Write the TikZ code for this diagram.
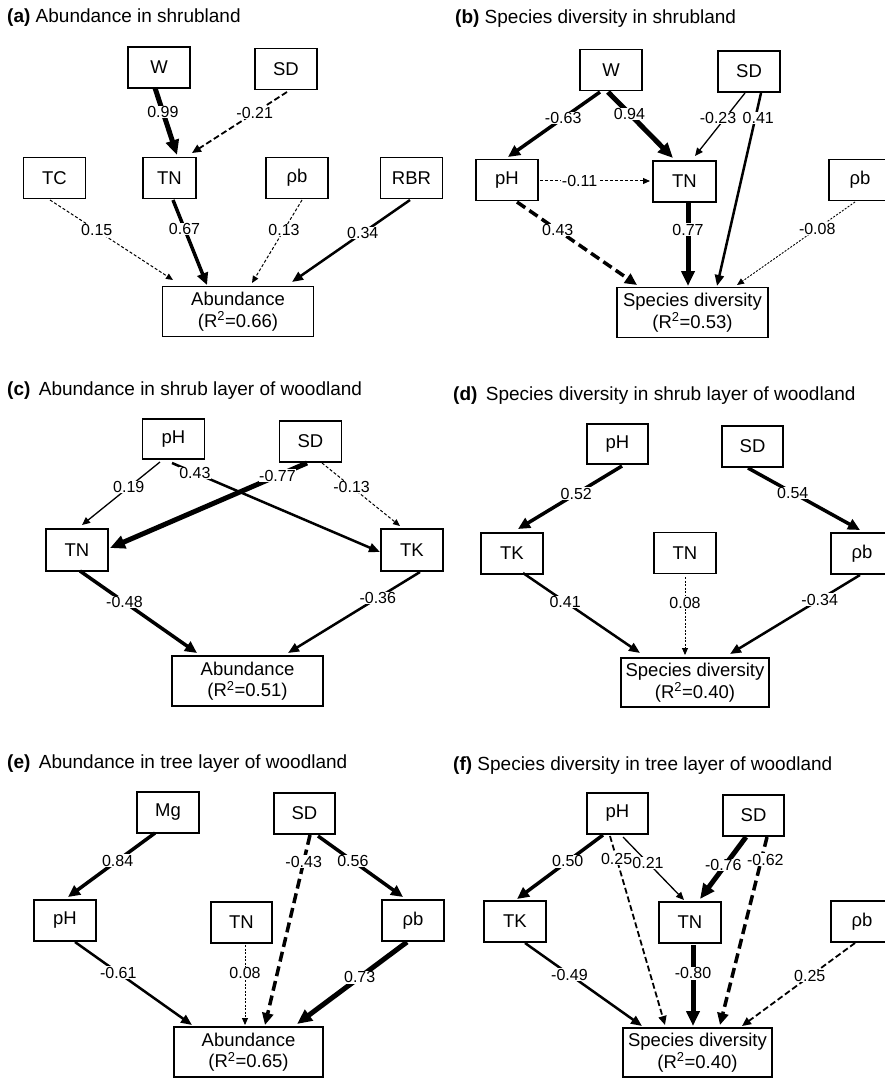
\documentclass[tikz,border=0pt]{standalone}
\usepackage{fontspec}
\setmainfont{Liberation Sans}
\usetikzlibrary{arrows.meta,calc}
\begin{document}
\begin{tikzpicture}[x=1pt,y=-1pt,
  box/.style={draw, line width=1.4pt, minimum width=62pt, minimum height=41pt, inner sep=0pt, font=\fontsize{18.5}{21.5}\selectfont},
  bigbox/.style={box, align=center, minimum width=151pt, minimum height=50pt},
  ttl/.style={anchor=base west, inner sep=0pt, font=\fontsize{19}{22}\selectfont},
  lbl/.style={fill=white, inner sep=0.6pt, font=\fontsize{16}{19}\selectfont},
  vthick/.style={line width=5pt, -{Triangle[length=15pt,width=13pt]}},
  thk/.style={line width=3.5pt, -{Triangle[length=12pt,width=11pt]}},
  med/.style={line width=2.5pt, -{Triangle[length=11pt,width=9pt]}},
  thn/.style={line width=1.3pt, -{Triangle[length=8pt,width=7pt]}},
  fdash/.style={line width=1pt, dash pattern=on 3pt off 2pt, -{Triangle[length=7pt,width=6pt]}},
  fdot/.style={line width=0.9pt, dash pattern=on 2pt off 1.5pt, -{Triangle[length=7pt,width=6pt]}},
  mdash/.style={line width=1.8pt, dash pattern=on 6pt off 3pt, -{Triangle[length=9pt,width=8pt]}},
  tdash/.style={line width=3.5pt, dash pattern=on 10pt off 5pt, -{Triangle[length=12pt,width=11pt]}}
]
\useasboundingbox (0,0) rectangle (885,1078);
\clip (0,0) rectangle (885,1078);

% ---------- (a) ----------
\node[ttl] (ta) at (7,23) {\textbf{(a)} Abundance in shrubland};
\node[box] (aW) at (159,67.5) {W};
\node[box] (aSD) at (286,69) {SD};
\node[box] (aTC) at (54.5,178) {TC};
\node[box, minimum width=53pt] (aTN) at (169.5,178) {TN};
\node[box] (arho) at (297,178) {ρb};
\node[box] (aRBR) at (411.5,178) {RBR};
\node[bigbox] (aAb) at (238,311.5) {Abundance\\(R\textsuperscript{2}=0.66)};
\draw[vthick] ($(aW)+(-4,20.5)$) -- node[lbl,pos=.36]{0.99} ($(aTN)+(7.5,-23)$);
\draw[mdash] ($(aSD)+(1,23)$) -- node[lbl,pos=.34]{-0.21} ($(aTN)+(22.5,-25)$);
\draw[fdash] ($(aTC)+(-4.5,22)$) -- node[lbl,pos=.38]{0.15} ($(aAb)+(-65,-31.5)$);
\draw[thk] ($(aTN)+(3.5,22)$) -- node[lbl,pos=.34]{0.67} ($(aAb)+(-31,-26.5)$);
\draw[fdash] ($(arho)+(5,22)$) -- node[lbl,pos=.36]{0.13} ($(aAb)+(14,-28.5)$);
\draw[med] ($(aRBR)+(-1.5,22)$) -- node[lbl,pos=.4]{0.34} ($(aAb)+(54,-29.5)$);

% ---------- (b) ----------
\node[ttl] (tb) at (455,24) {\textbf{(b)} Species diversity in shrubland};
\node[box] (bW) at (611,70) {W};
\node[box] (bSD) at (749,71.5) {SD};
\node[box] (bpH) at (507,180) {pH};
\node[box, minimum width=63pt] (bTN) at (684.5,181.5) {TN};
\node[box] (brho) at (860,180) {ρb};
\node[bigbox] (bSp) at (692.5,312.5) {Species diversity\\(R\textsuperscript{2}=0.53)};
\draw[thk] ($(bW)+(-11,22)$) -- node[lbl,pos=.4]{-0.63} ($(bpH)+(1,-23)$);
\draw[vthick] ($(bW)+(-3,22)$) -- node[lbl,pos=.33]{0.94} ($(bTN)+(-11.5,-23.5)$);
\draw[med] ($(bSD)+(12,21.5)$) -- node[lbl,pos=.13,xshift=3pt]{0.41} ($(bSp)+(24.5,-26.5)$);
\draw[thn] ($(bSD)+(-4,21.5)$) -- node[lbl,pos=.4,xshift=-7pt]{-0.23} ($(bTN)+(10.5,-25.5)$);
\draw[fdash] ($(bpH)+(33,1)$) -- node[lbl,pos=.36]{-0.11} ($(bTN)+(-34.5,-0.5)$);
\draw[tdash] ($(bpH)+(10,22)$) -- node[lbl,pos=.34]{0.43} ($(bSp)+(-55.5,-27.5)$);
\draw[vthick] ($(bTN)+(3.5,20.5)$) -- node[lbl,pos=.33]{0.77} ($(bSp)+(-4.5,-26.5)$);
\draw[fdot] ($(brho)+(-5,22)$) -- node[lbl,pos=.32]{-0.08} ($(bSp)+(44.5,-27.5)$);

% ---------- (c) ----------
\node[ttl] (tc) at (7,395) {\textbf{(c)}\, Abundance in shrub layer of woodland};
\node[box, minimum height=40pt] (cpH) at (173.5,439) {pH};
\node[box] (cSD) at (310.5,441.5) {SD};
\node[box, minimum height=42pt] (cTN) at (77,550) {TN};
\node[box, minimum height=42pt] (cTK) at (412,550) {TK};
\node[bigbox] (cAb) at (247.5,681) {Abundance\\(R\textsuperscript{2}=0.51)};
\draw[thn] ($(cpH)+(-13.5,23)$) -- node[lbl,pos=.4]{0.19} ($(cTN)+(5,-25)$);
\draw[med] ($(cpH)+(-1.5,24)$) -- node[lbl,pos=.11]{0.43} ($(cTK)+(-32,2)$);
\draw[vthick] ($(cSD)+(-3.5,21.5)$) -- node[lbl,pos=.15]{-0.77} ($(cTN)+(33,-2)$);
\draw[fdash] ($(cSD)+(11.5,21.5)$) -- node[lbl,pos=.38]{-0.13} ($(cTK)+(-12,-24)$);
\draw[thk] ($(cTN)+(3,21)$) -- node[lbl,pos=.38]{-0.48} ($(cAb)+(-50.5,-28)$);
\draw[med] ($(cTK)+(8,22)$) -- node[lbl,pos=.32]{-0.36} ($(cAb)+(40.5,-28)$);

% ---------- (d) ----------
\node[ttl] (td) at (453,400) {\textbf{(d)}\, Species diversity in shrub layer of woodland};
\node[box, minimum width=61pt, minimum height=40pt] (dpH) at (617.5,444) {pH};
\node[box, minimum width=61pt] (dSD) at (752.5,446.5) {SD};
\node[box] (dTK) at (512,553.5) {TK};
\node[box] (dTN) at (685,553) {TN};
\node[box] (drho) at (862,553.5) {ρb};
\node[bigbox, minimum width=148pt, minimum height=49pt] (dSp) at (695,682.5) {Species diversity\\(R\textsuperscript{2}=0.40)};
\draw[thk] ($(dpH)+(4.5,22)$) -- node[lbl,pos=.44]{0.52} ($(dTK)+(6,-24.5)$);
\draw[thk] ($(dSD)+(-4.5,21.5)$) -- node[lbl,pos=.4]{0.54} ($(drho)+(-2,-23.5)$);
\draw[med] ($(dTK)+(11,19.5)$) -- node[lbl,pos=.36]{0.41} ($(dSp)+(-55,-29.5)$);
\draw[fdot] ($(dTN)+(0,24)$) -- node[lbl,pos=.33]{0.08} ($(dSp)+(-10,-27.5)$);
\draw[med] ($(drho)+(-2,21.5)$) -- node[lbl,pos=.31]{-0.34} ($(dSp)+(35,-28.5)$);

% ---------- (e) ----------
\node[ttl] (te) at (7,768) {\textbf{(e)}\, Abundance in tree layer of woodland};
\node[box] (eMg) at (168,812.5) {Mg};
\node[box, minimum width=61pt] (eSD) at (304.5,813.5) {SD};
\node[box] (epH) at (65,920.5) {pH};
\node[box, minimum width=61pt] (eTN) at (241.5,922.5) {TN};
\node[box] (erho) at (413,920.5) {ρb};
\node[bigbox, minimum width=149pt] (eAb) at (248.5,1052) {Abundance\\(R\textsuperscript{2}=0.65)};
\draw[thk] ($(eMg)+(-13,20.5)$) -- node[lbl,pos=.43]{0.84} ($(epH)+(3,-23.5)$);
\draw[tdash] ($(eSD)+(5.5,21.5)$) -- node[lbl,pos=.14]{-0.43} ($(eAb)+(16.5,-27)$);
\draw[thk] ($(eSD)+(13.5,22.5)$) -- node[lbl,pos=.41]{0.56} ($(erho)+(-10,-23.5)$);
\draw[med] ($(epH)+(10,21.5)$) -- node[lbl,pos=.37]{-0.61} ($(eAb)+(-56.5,-27)$);
\draw[fdot] ($(eTN)+(3.5,22.5)$) -- node[lbl,pos=.35]{0.08} ($(eAb)+(-3.5,-27)$);
\draw[vthick] ($(erho)+(-6,21.5)$) -- node[lbl,pos=.43]{0.73} ($(eAb)+(48.5,-28)$);

% ---------- (f) ----------
\node[ttl] (tf) at (453,770) {\textbf{(f)} Species diversity in tree layer of woodland};
\node[box, minimum width=61pt] (fpH) at (617.5,813.5) {pH};
\node[box, minimum width=61pt] (fSD) at (753.5,815.5) {SD};
\node[box] (fTK) at (515,921.5) {TK};
\node[box] (fTN) at (690,922.5) {TN};
\node[box] (frho) at (862,921.5) {ρb};
\node[bigbox, minimum width=149pt, minimum height=49pt] (fSp) at (697.5,1052.5) {Species diversity\\(R\textsuperscript{2}=0.40)};
\draw[thk] ($(fpH)+(-14.5,21.5)$) -- node[lbl,pos=.41]{0.50} ($(fTK)+(2,-22.5)$);
\draw[mdash] ($(fpH)+(-7.5,22.5)$) -- node[lbl,pos=.12]{0.25} ($(fSp)+(-32.5,-27.5)$);
\draw[thn] ($(fpH)+(5.5,23.5)$) -- node[lbl,pos=.41]{0.21} ($(fTN)+(-6,-22.5)$);
\draw[tdash] ($(fSD)+(13.5,21.5)$) -- node[lbl,pos=.12,xshift=4pt]{-0.62} ($(fSp)+(22.5,-27.5)$);
\draw[vthick] ($(fSD)+(-7.5,21.5)$) -- node[lbl,pos=.45,xshift=-2pt]{-0.76} ($(fTN)+(10,-23.5)$);
\draw[med] ($(fTK)+(10,21.5)$) -- node[lbl,pos=.38]{-0.49} ($(fSp)+(-55.5,-26.5)$);
\draw[vthick] ($(fTN)+(3,22.5)$) -- node[lbl,pos=.35]{-0.80} ($(fSp)+(-4.5,-26.5)$);
\draw[mdash] ($(frho)+(-7,21.5)$) -- node[lbl,pos=.4]{0.25} ($(fSp)+(44.5,-26.5)$);
\end{tikzpicture}
\end{document}
